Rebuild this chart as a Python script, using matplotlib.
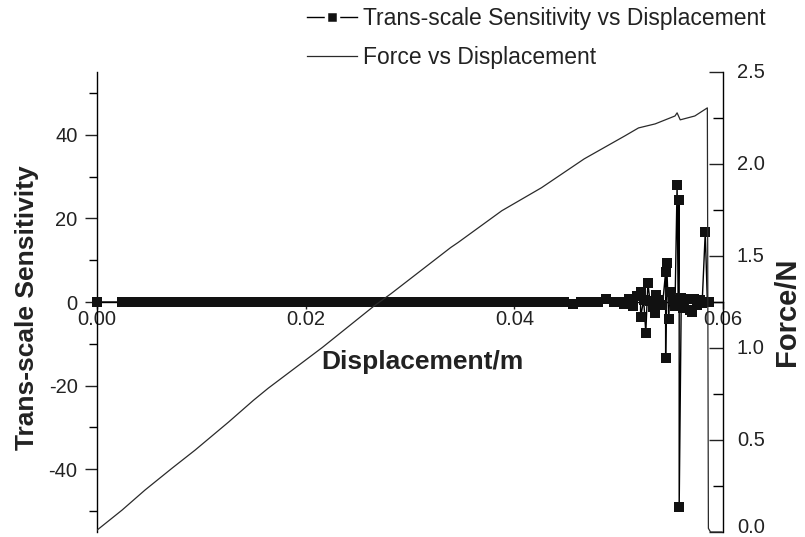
import matplotlib
matplotlib.use("Agg")
import matplotlib.pyplot as plt
from matplotlib.lines import Line2D
from matplotlib.ticker import MultipleLocator, FormatStrFormatter
from matplotlib.transforms import ScaledTranslation

plt.rcParams['font.family'] = ['Liberation Sans', 'DejaVu Sans']
plt.rcParams['axes.unicode_minus'] = False

# ---- Data ----
# Force vs Displacement (right axis)
force_disp = [0.0, 0.0024, 0.0046, 0.0072, 0.0094, 0.0126, 0.0150, 0.0164,
              0.0216, 0.0265, 0.0282, 0.0339, 0.0346, 0.0388, 0.0426, 0.0467,
              0.0506, 0.0519, 0.0535, 0.0554, 0.0556, 0.0559, 0.0573, 0.0585,
              0.0586, 0.0588, 0.0599]
force_val = [0.01, 0.119, 0.228, 0.347, 0.445, 0.597, 0.716, 0.781,
             1.003, 1.226, 1.296, 1.546, 1.573, 1.746, 1.871, 2.028,
             2.153, 2.196, 2.218, 2.261, 2.278, 2.240, 2.261, 2.305,
             0.02, 0.0, 0.0]

# Trans-scale Sensitivity vs Displacement (left axis)
sens_disp = [0.0,
             0.0024, 0.0032, 0.0040, 0.0048, 0.0056, 0.0064, 0.0072, 0.0080,
             0.0088, 0.0096, 0.0104, 0.0112, 0.0120, 0.0128, 0.0136, 0.0144,
             0.0152, 0.0160, 0.0168, 0.0176, 0.0184, 0.0192, 0.0200, 0.0208,
             0.0216, 0.0224, 0.0232, 0.0240, 0.0248, 0.0256, 0.0264, 0.0272,
             0.0280, 0.0288, 0.0296, 0.0304, 0.0312, 0.0320, 0.0328, 0.0336,
             0.0344, 0.0352, 0.0360, 0.0368, 0.0376, 0.0384, 0.0392, 0.0400,
             0.0408, 0.0416, 0.0424, 0.0432, 0.0440, 0.0448, 0.0456, 0.0464,
             0.0472, 0.0480, 0.0488, 0.0496,
             0.0500, 0.0505, 0.0510, 0.0514, 0.0518, 0.0521, 0.0521, 0.0524,
             0.0526, 0.0528, 0.0530, 0.0533, 0.0535, 0.0536, 0.0539, 0.0542,
             0.0545, 0.0545, 0.0546, 0.0548, 0.0549, 0.0552, 0.0554, 0.0556,
             0.0557, 0.0558, 0.0558, 0.0560, 0.0562, 0.0565, 0.0568, 0.0570,
             0.0572, 0.0575, 0.0578, 0.0580, 0.0583, 0.0585, 0.0587]
sens_val = [0.0,
            0.0, 0.0, 0.0, 0.0, 0.0, 0.0, 0.0, 0.0,
            0.0, 0.0, 0.0, 0.0, 0.0, 0.0, 0.0, 0.0,
            0.0, 0.0, 0.0, 0.0, 0.0, 0.0, 0.0, 0.0,
            0.0, 0.0, 0.0, 0.0, 0.0, 0.0, 0.0, 0.0,
            0.0, 0.0, 0.0, 0.0, 0.0, 0.0, 0.0, 0.0,
            0.0, 0.0, 0.0, 0.0, 0.0, 0.0, 0.0, 0.0,
            0.0, 0.0, 0.0, 0.0, 0.0, 0.0, -0.4, 0.0,
            0.0, 0.0, 0.6, 0.0,
            0.0, -0.5, 0.8, -1.0, 1.5, 2.4, -3.6, 0.5,
            -7.4, 4.5, 0.3, -1.2, -2.6, 1.7, 0.4, -0.8,
            7.2, -13.4, 9.3, -4.1, 2.4, 0.5, -1.0, 28.0,
            0.5, 24.4, -49.0, 1.0, -1.5, 0.8, -1.8, -2.4,
            0.6, -0.8, 0.5, -0.3, 16.7, 0.0, 0.0]

x_ticks = [0.00, 0.02, 0.04, 0.06]
left_ticks = [-40, -20, 0, 20, 40]
right_ticks = [0.0, 0.5, 1.0, 1.5, 2.0, 2.5]

W, H = 805, 537
fig = plt.figure(figsize=(W / 100, H / 100), dpi=100)
L, R, T, B = 97, 723, 72, 532
ax = fig.add_axes([L / W, 1 - B / H, (R - L) / W, (B - T) / H])
ax2 = ax.twinx()

# sensitivity series
ax.plot(sens_disp, sens_val, color='black', lw=1.0, marker='s',
        markersize=7.6, markerfacecolor='#111111', markeredgecolor='#111111',
        markeredgewidth=0.0, zorder=3, clip_on=False)
ax.set_xlim(0, 0.06)
ax.set_ylim(-55, 55)

ax.spines['top'].set_visible(False)
ax.spines['right'].set_visible(False)
ax.spines['bottom'].set_position(('data', 0))
for s in ['left', 'bottom']:
    ax.spines[s].set_linewidth(1.0)

ax.set_xticks(x_ticks)
ax.xaxis.set_major_formatter(FormatStrFormatter('%.2f'))
ax.tick_params(axis='x', direction='out', length=5, width=1.0, pad=1,
               labelsize=14.5, colors='#222222')
ax.set_yticks(left_ticks)
ax.yaxis.set_minor_locator(MultipleLocator(10))
ax.tick_params(axis='y', which='major', direction='out', length=9, width=1.0,
               pad=5, labelsize=14.5, colors='#222222')
ax.tick_params(axis='y', which='minor', direction='out', length=6, width=1.0)

# force series
ax2.plot(force_disp, force_val, color='#2a2a2a', lw=0.9, zorder=2)
ax2.set_ylim(0, 2.5)
for s in ['top', 'left', 'bottom']:
    ax2.spines[s].set_visible(False)
ax2.spines['right'].set_linewidth(1.0)
ax2.set_yticks(right_ticks)
ax2.yaxis.set_major_formatter(FormatStrFormatter('%.1f'))
ax2.yaxis.set_minor_locator(MultipleLocator(0.25))
ax2.tick_params(axis='y', which='major', direction='in', length=10, width=1.0,
                pad=10, labelsize=14.5, colors='#222222')
ax2.tick_params(axis='y', which='minor', direction='in', length=7, width=1.0)
# keep the bottom "0.0" label inside the picture
for lab in ax2.get_yticklabels():
    lab.set_va('center')
bottom_lab = ax2.yaxis.get_major_ticks()[0].label2
bottom_lab.set_transform(bottom_lab.get_transform() +
                         ScaledTranslation(0, 3 / 72, fig.dpi_scale_trans))

# axis labels
fig.text(422 / W, 1 - 362 / H, 'Displacement/m', fontsize=19,
         fontweight='bold', ha='center', va='center', color='#222222')
fig.text(27 / W, 1 - 308 / H, 'Trans-scale Sensitivity', fontsize=19,
         fontweight='bold', ha='center', va='center', rotation=90,
         color='#222222')
fig.text(773 / W, 1 - 312 / H, 'Force/N', fontsize=21,
         fontweight='bold', ha='left', va='center', rotation=90,
         color='#222222')

# legend
h1 = Line2D([], [], color='black', lw=1.0, marker='s', markersize=8,
            markerfacecolor='#111111', markeredgecolor='white',
            markeredgewidth=2.5)
h2 = Line2D([], [], color='#2a2a2a', lw=0.9)
fig.legend([h1, h2], ['Trans-scale Sensitivity vs Displacement',
                      'Force vs Displacement'],
           loc='upper left', bbox_to_anchor=(307 / W, 1 - 7 / H),
           frameon=False, fontsize=16.5, handlelength=2.2,
           handletextpad=0.25, labelspacing=0.7, borderpad=0.0,
           borderaxespad=0.0, labelcolor='#222222')

fig.savefig('out.png', dpi=100)
